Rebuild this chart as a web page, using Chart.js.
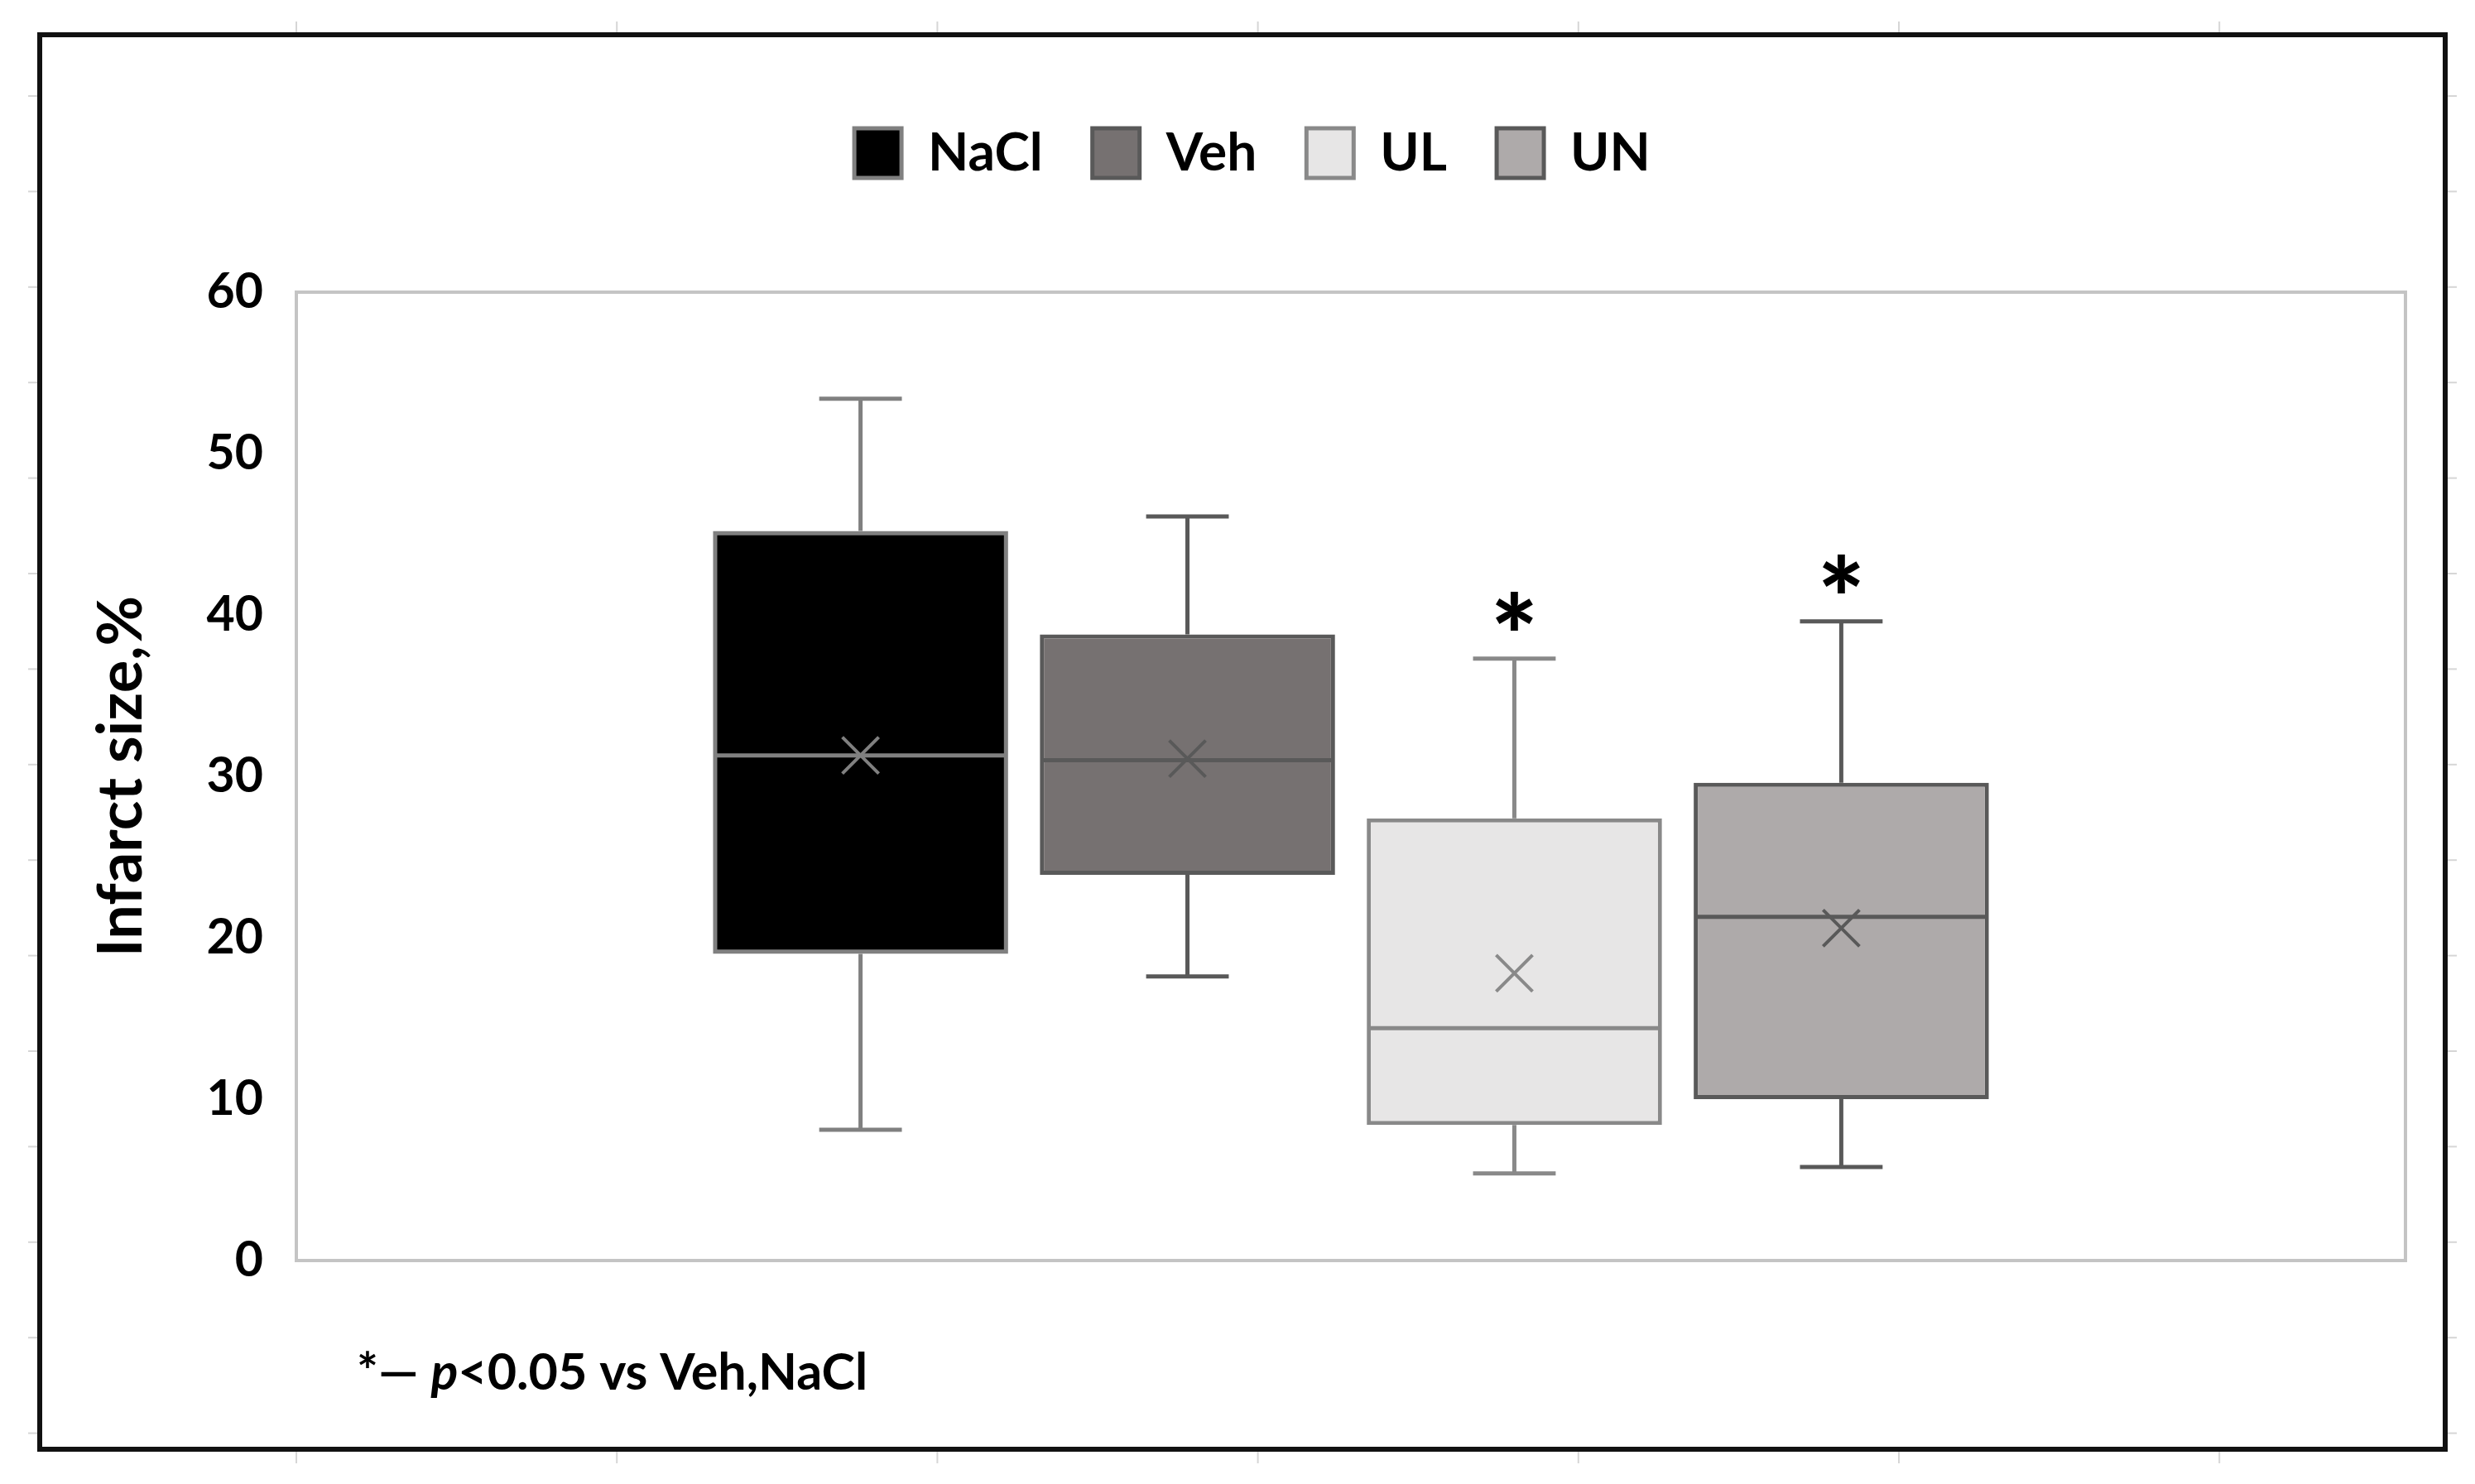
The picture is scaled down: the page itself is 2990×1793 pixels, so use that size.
<!DOCTYPE html>
<html>
<head>
<meta charset="utf-8">
<title>Infarct size</title>
<script src="https://cdn.jsdelivr.net/npm/chart.js@4.4.1/dist/chart.umd.min.js"></script>
<style>
  html, body { margin: 0; padding: 0; background: #fff; }
  canvas { display: block; }
</style>
</head>
<body>
<canvas id="boxchart" width="2990" height="1793" style="width:2990px;height:1793px"></canvas>
<script>
// values (Infarct size, %)
const groups = ["NaCl", "Veh", "UL", "UN"];
const whiskerMin = [8.1, 17.6, 5.4, 5.8];
const q1 = [19.0, 23.9, 8.4, 10.0];
const median = [31.3, 31.0, 14.4, 21.3];
const q3 = [45.2, 38.8, 27.4, 29.6];
const whiskerMax = [53.4, 46.1, 37.3, 39.6];
const means = [31.3, 31.1, 17.8, 20.6];
const significant = [false, false, true, true];
const yMin = 0, yMax = 60, yStep = 10;

const fills = ["#000000", "#767171", "#e7e6e6", "#aeaaaa"];
const lines = ["#808080", "#595959", "#898989", "#595959"];

const FONT = "Lato, 'Open Sans', sans-serif";

// whiskers go under the boxes, median / mean / stars on top
const boxExtras = {
  id: "boxExtras",
  beforeDraw(chart) {
    const ctx = chart.ctx;
    const a = chart.chartArea;
    // move the legend a bit right, like the original
    chart.legend.left += 30;
    chart.legend.right += 30;
    ctx.save();
    // excel sheet ticks around the frame
    ctx.strokeStyle = "#d6d6d6";
    ctx.lineWidth = 2;
    for (let x = 358; x < 2960; x += 387.2) {
      ctx.beginPath(); ctx.moveTo(x, 26); ctx.lineTo(x, 42); ctx.stroke();
      ctx.beginPath(); ctx.moveTo(x, 1751); ctx.lineTo(x, 1768); ctx.stroke();
    }
    for (let y = 116; y < 1760; y += 115.4) {
      ctx.beginPath(); ctx.moveTo(34, y); ctx.lineTo(48, y); ctx.stroke();
      ctx.beginPath(); ctx.moveTo(2954, y); ctx.lineTo(2968, y); ctx.stroke();
    }
    // outer frame
    ctx.strokeStyle = "#111";
    ctx.lineWidth = 6;
    ctx.strokeRect(48, 42, 2906, 1709);
    // plot area border
    ctx.strokeStyle = "#c4c4c4";
    ctx.lineWidth = 4;
    ctx.strokeRect(a.left, a.top, a.right - a.left, a.bottom - a.top);
    ctx.restore();
  },
  afterDraw(chart) {
    chart.legend.left -= 30;
    chart.legend.right -= 30;
    const ctx = chart.ctx;
    ctx.save();
    ctx.fillStyle = "#000";
    ctx.textBaseline = "middle";
    ctx.textAlign = "left";
    let x = 431;
    const yy = 1659;
    const parts = [["*— ", "bold"], ["p", "italic bold"], ["<0.05 vs Veh,NaCl", "bold"]];
    parts.forEach(p => {
      ctx.font = p[1] + " 61px " + FONT;
      ctx.fillText(p[0], x, yy);
      x += ctx.measureText(p[0]).width;
    });
    ctx.restore();
  },
  beforeDatasetsDraw(chart) {
    const ctx = chart.ctx;
    const y = chart.scales.y;
    ctx.save();
    ctx.lineWidth = 5;
    groups.forEach((g, i) => {
      const bar = chart.getDatasetMeta(i).data[0];
      const cap = bar.width * 0.28;
      ctx.strokeStyle = lines[i];
      ctx.beginPath();
      ctx.moveTo(bar.x, y.getPixelForValue(q3[i]));
      ctx.lineTo(bar.x, y.getPixelForValue(whiskerMax[i]));
      ctx.moveTo(bar.x - cap / 2, y.getPixelForValue(whiskerMax[i]));
      ctx.lineTo(bar.x + cap / 2, y.getPixelForValue(whiskerMax[i]));
      ctx.moveTo(bar.x, y.getPixelForValue(q1[i]));
      ctx.lineTo(bar.x, y.getPixelForValue(whiskerMin[i]));
      ctx.moveTo(bar.x - cap / 2, y.getPixelForValue(whiskerMin[i]));
      ctx.lineTo(bar.x + cap / 2, y.getPixelForValue(whiskerMin[i]));
      ctx.stroke();
    });
    ctx.restore();
  },
  afterDatasetsDraw(chart) {
    const ctx = chart.ctx;
    const y = chart.scales.y;
    ctx.save();
    groups.forEach((g, i) => {
      const bar = chart.getDatasetMeta(i).data[0];
      const half = bar.width / 2 - 3;
      ctx.strokeStyle = lines[i];
      ctx.lineWidth = 5;
      const ym = y.getPixelForValue(median[i]);
      ctx.beginPath();
      ctx.moveTo(bar.x - half, ym);
      ctx.lineTo(bar.x + half, ym);
      ctx.stroke();
      // mean as an x
      const ya = y.getPixelForValue(means[i]);
      const s = 22;
      ctx.lineWidth = 4;
      ctx.beginPath();
      ctx.moveTo(bar.x - s, ya - s); ctx.lineTo(bar.x + s, ya + s);
      ctx.moveTo(bar.x - s, ya + s); ctx.lineTo(bar.x + s, ya - s);
      ctx.stroke();
      if (significant[i]) {
        ctx.fillStyle = "#000";
        ctx.font = "900 135px " + FONT;
        ctx.textAlign = "center";
        ctx.textBaseline = "alphabetic";
        ctx.fillText("*", bar.x, y.getPixelForValue(whiskerMax[i]) - 55 + 77);
      }
    });
    ctx.restore();
  }
};

// extra room under the legend
const legendGap = {
  id: "legendGap",
  beforeInit(chart) {
    const fit = chart.legend.fit;
    chart.legend.fit = function () {
      fit.bind(chart.legend)();
      this.height += 126;
    };
  }
};

const ctx = document.getElementById("boxchart").getContext("2d");
new Chart(ctx, {
  type: "bar",
  data: {
    labels: [""],
    datasets: groups.map((g, i) => ({
      label: g,
      data: [[q1[i], q3[i]]],
      backgroundColor: fills[i],
      borderColor: lines[i],
      borderWidth: 5,
      borderSkipped: false,
      categoryPercentage: 0.62,
      barPercentage: 0.903
    }))
  },
  options: {
    responsive: false,
    animation: false,
    devicePixelRatio: 1,
    layout: { padding: { top: 93, left: 60, right: 84, bottom: 270 } },
    plugins: {
      tooltip: { enabled: false },
      legend: {
        position: "top",
        labels: {
          boxWidth: 57,
          boxHeight: 60,
          padding: 60,
          color: "#000",
          font: { family: FONT, size: 64, weight: "bold" }
        }
      }
    },
    scales: {
      x: { display: false },
      y: {
        min: yMin,
        max: yMax,
        ticks: {
          stepSize: yStep,
          padding: 40,
          color: "#000",
          font: { family: FONT, size: 59, weight: "bold" }
        },
        grid: { display: false, drawTicks: false },
        border: { display: false },
        title: {
          display: true,
          text: "Infarct size,%",
          color: "#000",
          padding: { top: 43, bottom: 0 },
          font: { family: FONT, size: 74, weight: "bold" }
        },
        afterFit(scale) { scale.width = 298; }
      }
    }
  },
  plugins: [boxExtras, legendGap]
});
</script>
</body>
</html>
